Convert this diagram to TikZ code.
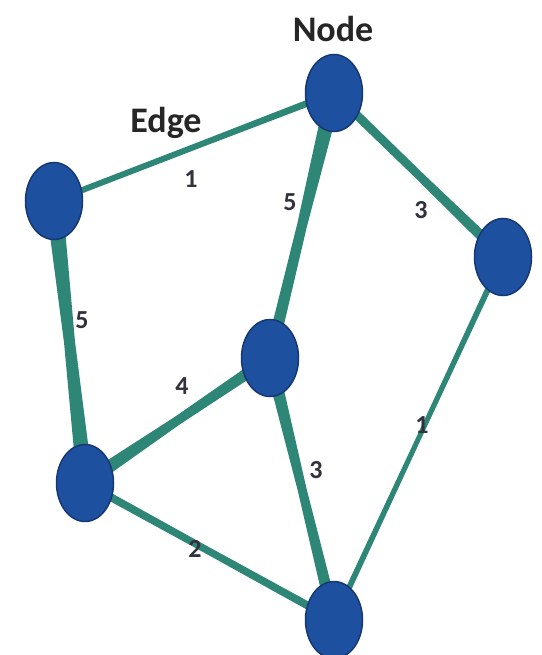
\documentclass[tikz,border=0pt]{standalone}
\usepackage{fontspec}
\setmainfont{Carlito}
\usetikzlibrary{calc,shapes.geometric,backgrounds}
\definecolor{nodeblue}{RGB}{30,80,160}
\definecolor{noderim}{RGB}{22,55,115}
\definecolor{edgeteal}{RGB}{46,134,118}
\definecolor{txt}{RGB}{50,50,62}
\newcommand{\taperedge}[5]{%
  \path (#1.center) -- (#2.center) coordinate[pos=0.5] (em);
  \fill[edgeteal] ($(#1.center)!#3!90:(#2.center)$) -- ($(em)!#4!90:(#2.center)$) -- ($(#2.center)!#5!-90:(#1.center)$) -- ($(#2.center)!#5!90:(#1.center)$) -- ($(em)!#4!-90:(#2.center)$) -- ($(#1.center)!#3!-90:(#2.center)$) -- cycle;}
\tikzset{
  gnode/.style={ellipse, fill=nodeblue, draw=noderim, line width=1.5pt, minimum width=57pt, minimum height=77pt, inner sep=0pt},
  wlabel/.style={text=txt, font=\fontsize{26}{26}\selectfont\bfseries, inner sep=0pt},
  title/.style={text=black!85, font=\fontsize{36}{36}\selectfont\bfseries, inner sep=0pt, anchor=base}
}
\begin{document}
\begin{tikzpicture}[x=1pt,y=-1pt]
\useasboundingbox (0,0) rectangle (541,655);
\node[gnode] (T) at (334,93) {};
\node[gnode] (L) at (54,201) {};
\node[gnode] (R) at (503,257) {};
\node[gnode] (M) at (270,358) {};
\node[gnode] (BL) at (85,483) {};
\node[gnode] (B) at (334,620) {};
\begin{scope}[on background layer]
\fill[white] (0,0) rectangle (541,655);
\taperedge{L}{T}{3pt}{3pt}{3.5pt}
\taperedge{T}{M}{8pt}{5pt}{6pt}
\taperedge{T}{R}{4.5pt}{4.2pt}{5.5pt}
\taperedge{L}{BL}{8.5pt}{5.5pt}{8pt}
\taperedge{BL}{M}{7pt}{4.5pt}{6pt}
\taperedge{M}{B}{6.5pt}{4.5pt}{6pt}
\taperedge{R}{B}{3pt}{2.5pt}{3pt}
\taperedge{BL}{B}{4pt}{3.6pt}{4pt}
\end{scope}
\node[title] (nodetitle) at (333,42) {Node};
\node[title] (edgetitle) at (166,133) {Edge};
\node[wlabel] (w1) at (191,179) {1};
\node[wlabel] (w2) at (290,202) {5};
\node[wlabel] (w3) at (421,210) {3};
\node[wlabel] (w4) at (82,320) {5};
\node[wlabel] (w5) at (182,386) {4};
\node[wlabel] (w6) at (316,470) {3};
\node[wlabel] (w7) at (422,425) {1};
\node[wlabel] (w8) at (195,549) {2};
\end{tikzpicture}
\end{document}
